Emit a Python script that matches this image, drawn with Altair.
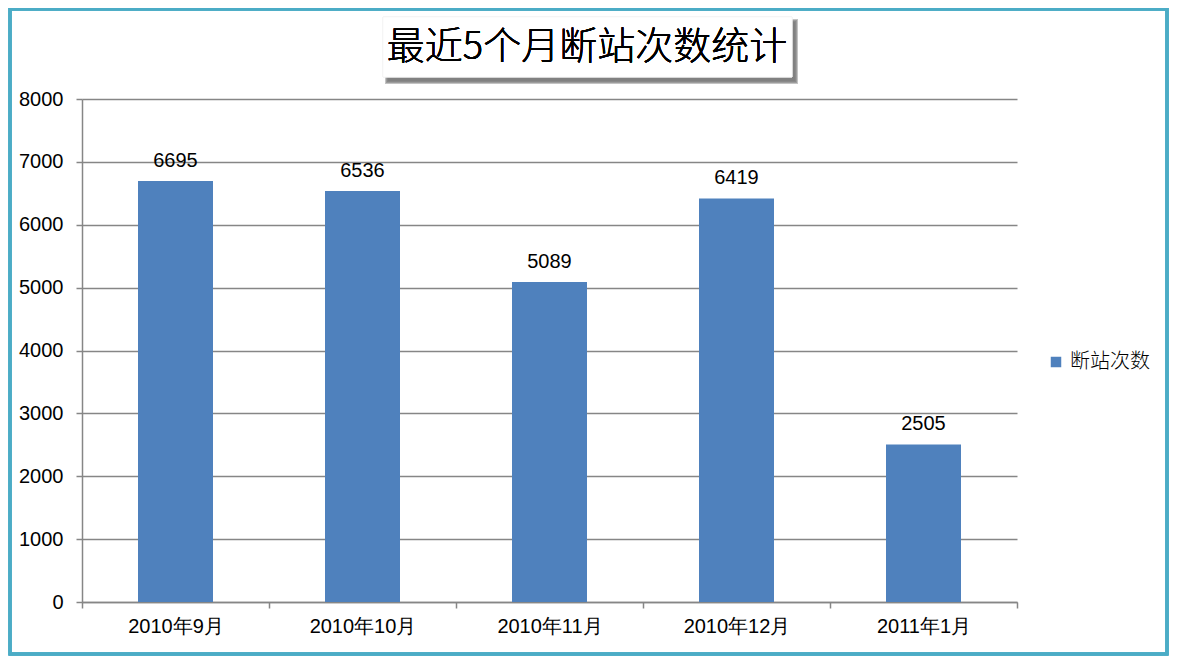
import altair as alt
import pandas as pd

months = ["2010年9月", "2010年10月", "2010年11月", "2010年12月", "2011年1月"]
counts = [6695, 6536, 5089, 6419, 2505]
series_name = "断站次数"
title_text = "最近5个月断站次数统计"

df = pd.DataFrame({"month": months, "count": counts, "series": [series_name] * len(months)})

W, H = 935, 503
BLUE = "#4F81BD"
GRID = "#868686"
TEAL = "#4BACC6"

x_enc = alt.X("month:N", sort=months, title=None,
              scale=alt.Scale(paddingInner=0, paddingOuter=0),
              axis=alt.Axis(labelAngle=0, labelFontSize=20, labelColor="#000000",
                            labelFont="Liberation Sans", tickBand="extent",
                            tickSize=6, tickColor=GRID, tickWidth=1.5,
                            domainColor=GRID, domainWidth=1.5, labelPadding=8))
y_enc = alt.Y("count:Q", title=None,
              scale=alt.Scale(domain=[0, 8000], nice=False),
              axis=alt.Axis(values=list(range(0, 8001, 1000)), format="d", labelFontSize=20,
                            labelColor="#000000", labelFont="Liberation Sans",
                            grid=True, gridColor=GRID, gridWidth=1.5, gridOpacity=1,
                            tickSize=6, tickColor=GRID, tickWidth=1.5,
                            domainColor=GRID, domainWidth=1.5, labelPadding=13))

bars = alt.Chart(df).mark_bar(size=75).encode(
    x=x_enc, y=y_enc,
    color=alt.Color("series:N", scale=alt.Scale(range=[BLUE]),
                    legend=alt.Legend(title=None, orient="none", legendX=964, legendY=253,
                                      symbolType="square", symbolSize=110,
                                      symbolStrokeWidth=0, labelFontSize=20,
                                      labelFont="Noto Sans CJK SC", labelFontWeight=300,
                                      labelColor="#000000")),
)

labels = alt.Chart(df).mark_text(baseline="alphabetic", dy=-14, fontSize=20,
                                 font="Liberation Sans", color="#000000").encode(
    x=alt.X("month:N", sort=months), y="count:Q", text="count:Q")

border = alt.Chart(df).mark_rect(fill=None, stroke=TEAL, strokeWidth=3).encode(
    x=alt.value(-72), x2=alt.value(1085), y=alt.value(-90), y2=alt.value(555))

shadow_layers = []
for i, op in enumerate([0.12, 0.15, 0.2, 0.25]):
    shadow_layers.append(
        alt.Chart(df).mark_rect(fill="#808080", opacity=op).encode(
            x=alt.value(303 + i), x2=alt.value(716 - i),
            y=alt.value(-80 + i), y2=alt.value(-15 - i)))
title_box = alt.Chart(df).mark_rect(fill="#FFFFFF", stroke="#F0F0F0", strokeWidth=0.5).encode(
    x=alt.value(301), x2=alt.value(710), y=alt.value(-82), y2=alt.value(-22))
title = alt.Chart(df).mark_text(fontSize=38, font="Noto Sans CJK SC", fontWeight=300,
                                color="#000000", align="center", baseline="middle").encode(
    x=alt.value(505), y=alt.value(-51), text=alt.value(title_text))

chart = alt.layer(border, *shadow_layers, title_box, title, bars, labels).properties(
    width=W, height=H,
    autosize=alt.AutoSizeParams(type="none"),
    padding={"left": 74, "top": 91, "right": 157, "bottom": 55},
    background="#FFFFFF",
).configure_view(stroke=None)

chart.save("out.html", embed_options={"renderer": "svg", "actions": False})
